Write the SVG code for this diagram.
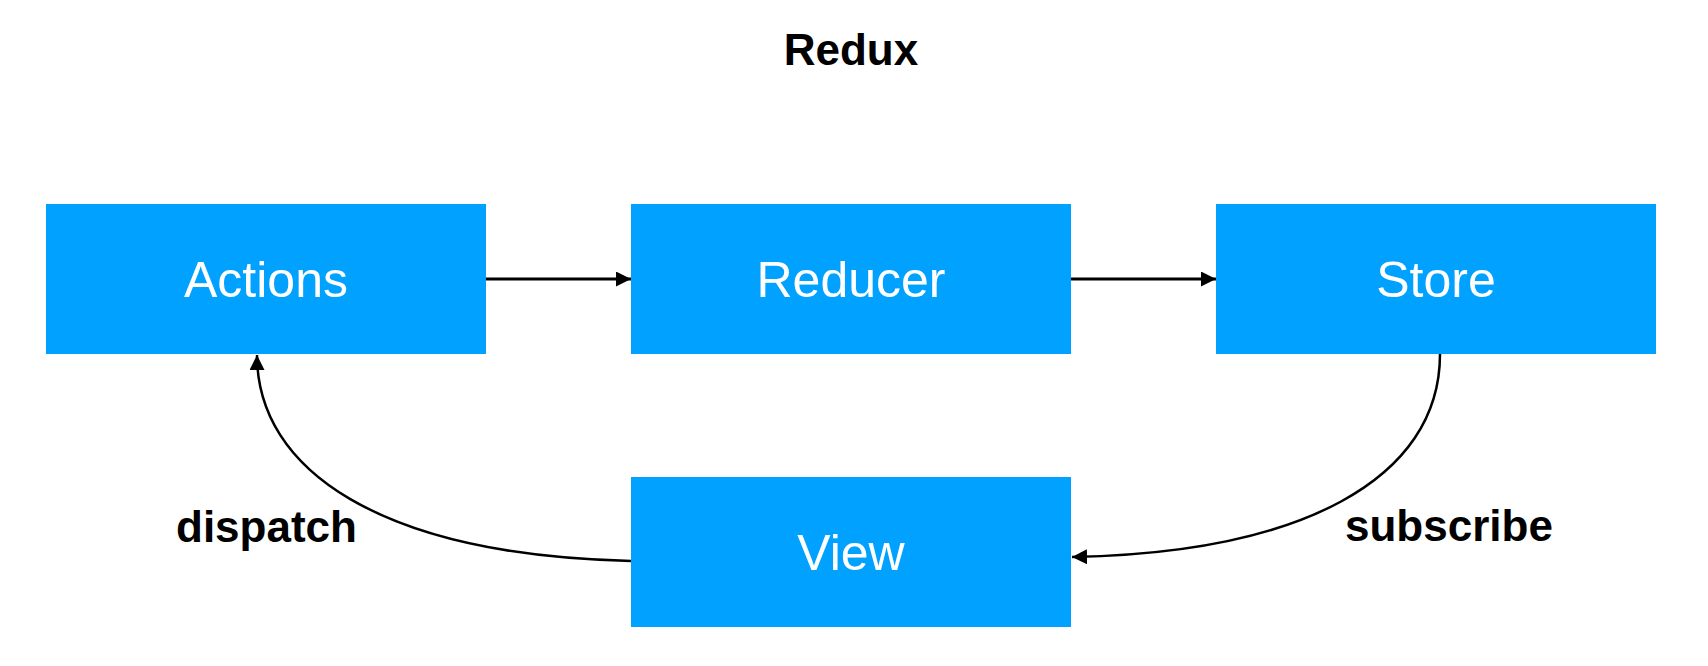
<svg xmlns="http://www.w3.org/2000/svg" width="1708" height="666" viewBox="0 0 1708 666">
  <style>
    .box { fill: #00A1FF; }
    .lbl { font-family: "Liberation Sans", Arial, Helvetica, sans-serif; font-size: 50px; fill: #ffffff; text-anchor: middle; }
    .bold { font-family: "Liberation Sans", Arial, Helvetica, sans-serif; font-weight: bold; fill: #000000; }
    .edge { fill: none; stroke: #000000; }
  </style>
  <defs>
    <marker id="arrow" markerUnits="userSpaceOnUse" markerWidth="16" markerHeight="16" refX="15" refY="7.5" orient="auto">
      <path d="M0,0 L15,7.5 L0,15 z" fill="#000000"/>
    </marker>
  </defs>
  <rect width="1708" height="666" fill="#ffffff"/>
  <text class="bold" x="851" y="65" font-size="44" text-anchor="middle">Redux</text>

  <g id="node-actions">
    <rect class="box" x="46" y="204" width="440" height="150"/>
    <text class="lbl" x="266" y="297">Actions</text>
  </g>
  <g id="node-reducer">
    <rect class="box" x="631" y="204" width="440" height="150"/>
    <text class="lbl" x="851" y="297">Reducer</text>
  </g>
  <g id="node-store">
    <rect class="box" x="1216" y="204" width="440" height="150"/>
    <text class="lbl" x="1436" y="297">Store</text>
  </g>
  <g id="node-view">
    <rect class="box" x="631" y="477" width="440" height="150"/>
    <text class="lbl" x="851" y="570">View</text>
  </g>

  <g id="connectors">
    <path class="edge" stroke-width="3" d="M486,279 L631,279" marker-end="url(#arrow)"/>
    <path class="edge" stroke-width="3" d="M1071,279 L1216,279" marker-end="url(#arrow)"/>
    <path class="edge" stroke-width="2.5" d="M1440,354 C1440,480 1300,553 1072,557" marker-end="url(#arrow)"/>
    <path class="edge" stroke-width="2.5" d="M631,561 C380,555 257,470 257,355" marker-end="url(#arrow)"/>
    <text class="bold" x="176" y="542" font-size="44">dispatch</text>
    <text class="bold" x="1345" y="541" font-size="44">subscribe</text>
  </g>
</svg>
